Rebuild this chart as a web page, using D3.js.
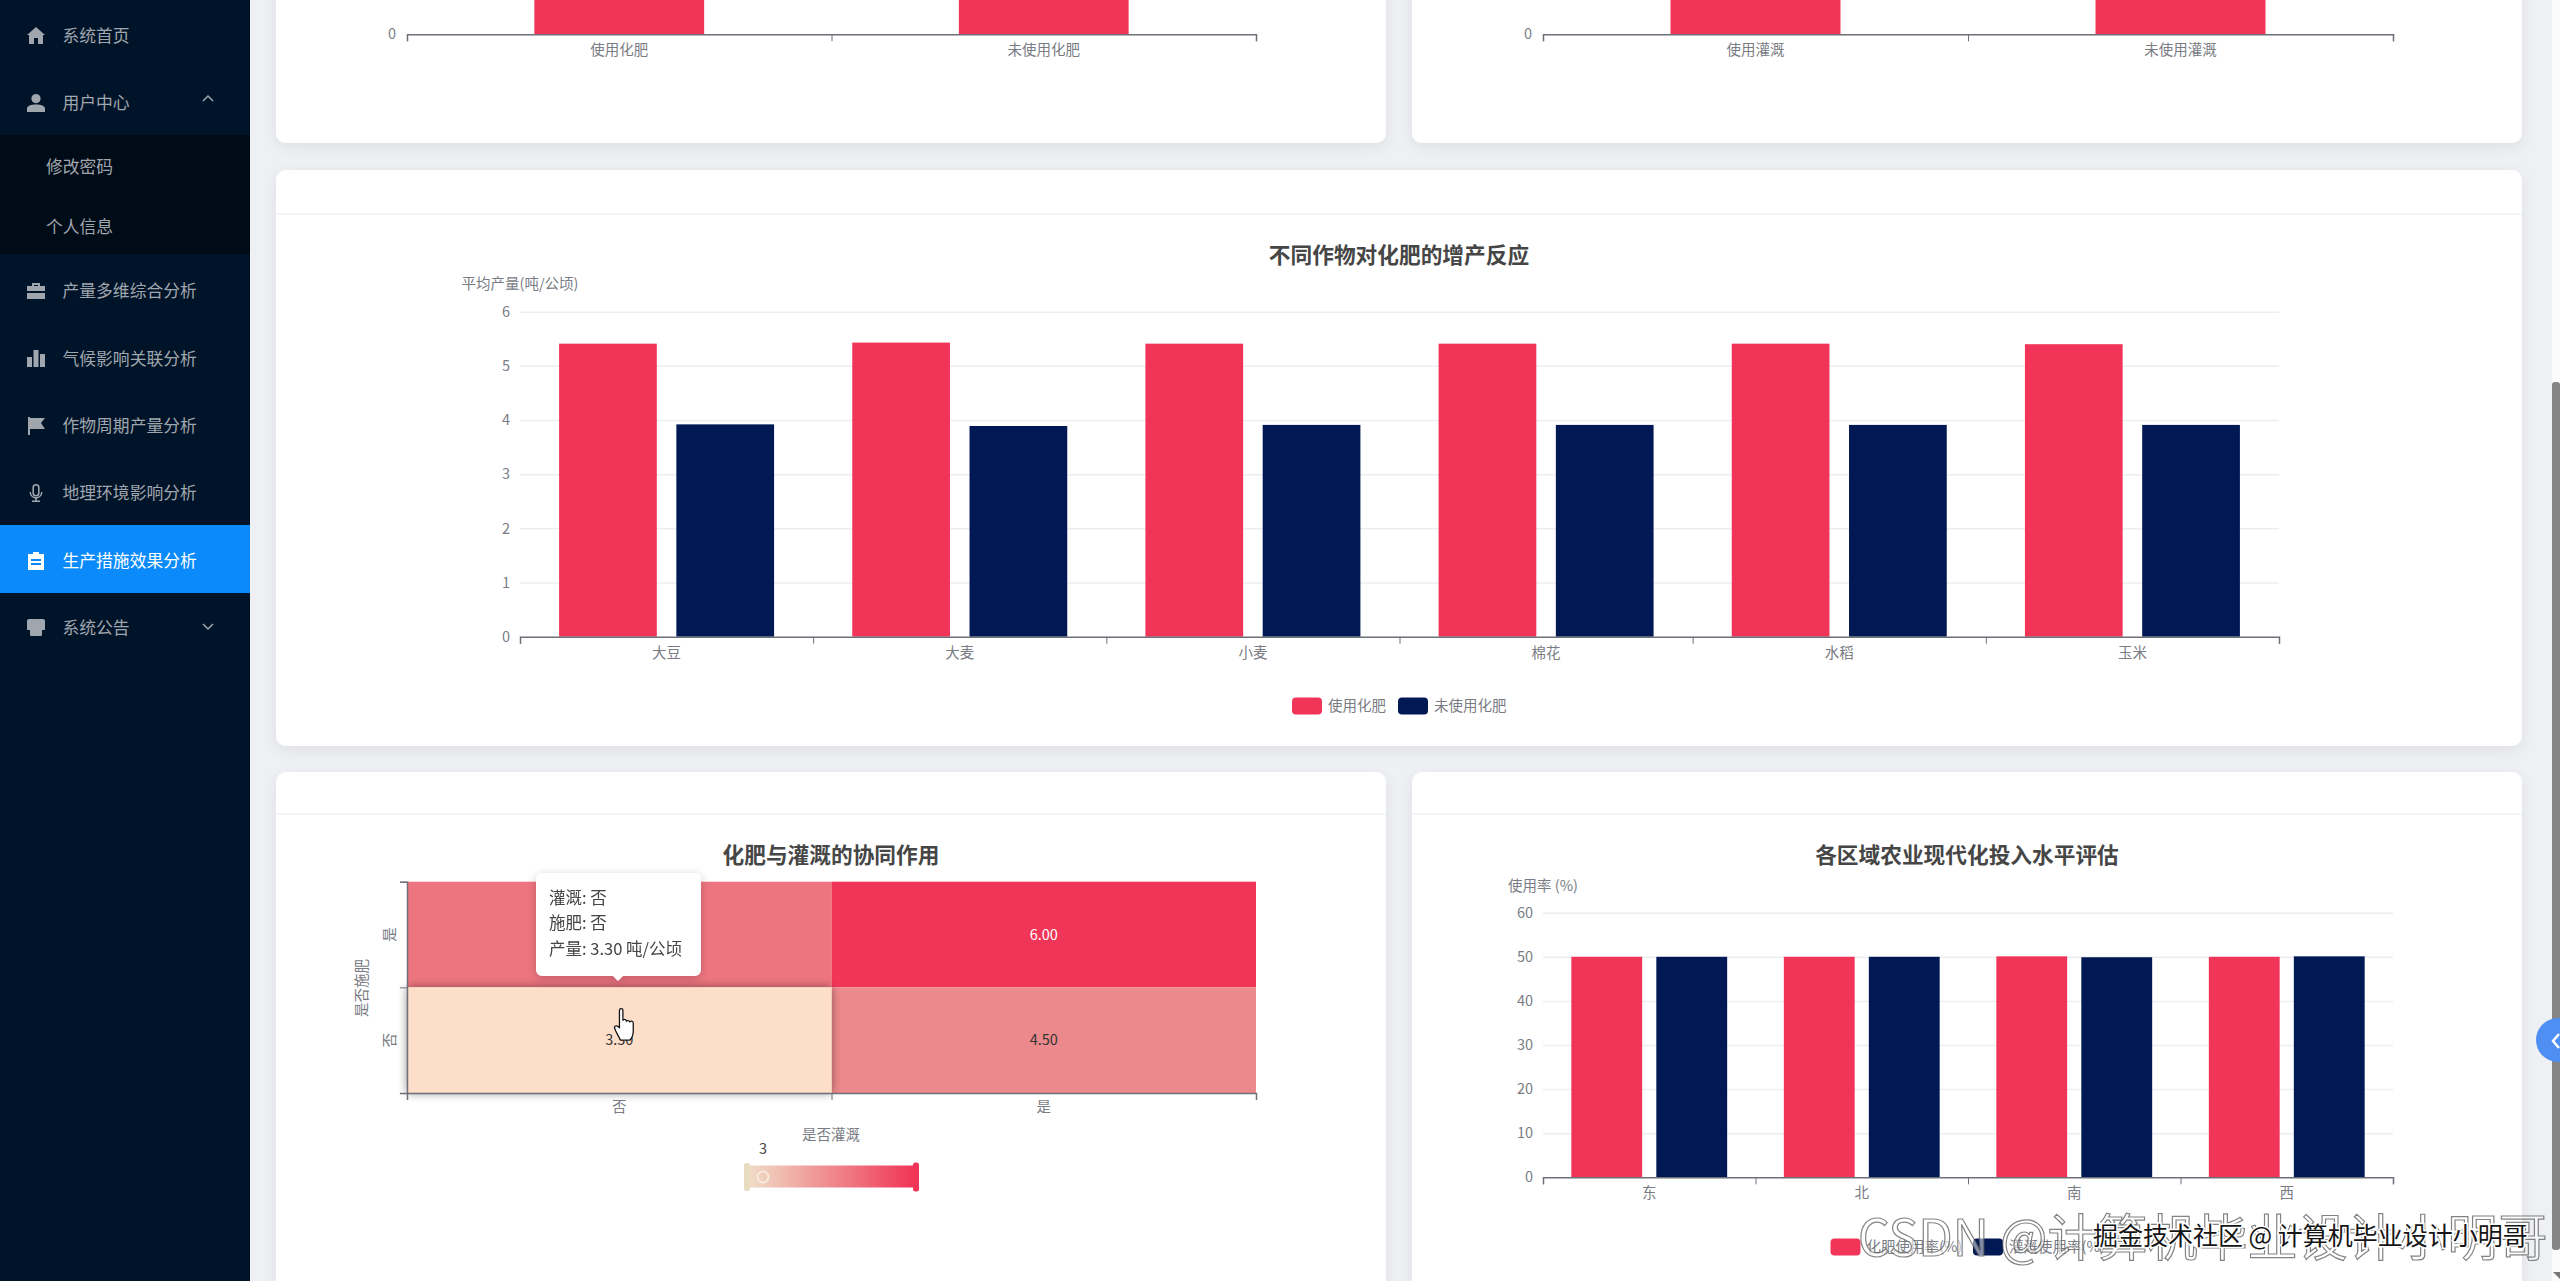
<!DOCTYPE html>
<html>
<head>
<meta charset="utf-8">
<script src="https://cdn.jsdelivr.net/npm/d3@7"></script>
<style>
  html, body { margin: 0; padding: 0; background: #eef0f4; overflow: hidden; }
  svg { display: block; }
  text { font-family: "Noto Sans CJK SC", "Noto Sans", sans-serif; }
</style>
</head>
<body>
<svg id="page" width="2560" height="1281"></svg>
<script>
// chart values
const menuItems = ['系统首页', '用户中心', '修改密码', '个人信息', '产量多维综合分析', '气候影响关联分析', '作物周期产量分析', '地理环境影响分析', '生产措施效果分析', '系统公告'];

const fertCategories = ['使用化肥', '未使用化肥'];
const fertValues = [5.41, 3.91];
const irrigCategories = ['使用灌溉', '未使用灌溉'];
const irrigValues = [5.40, 3.90];

const cropCategories = ['大豆', '大麦', '小麦', '棉花', '水稻', '玉米'];
const cropSeriesNames = ['使用化肥', '未使用化肥'];
const cropWithFert = [5.41, 5.43, 5.41, 5.41, 5.41, 5.40];
const cropNoFert = [3.92, 3.89, 3.91, 3.91, 3.91, 3.91];
const cropTicks = [0, 1, 2, 3, 4, 5, 6];

const regionCategories = ['东', '北', '南', '西'];
const regionSeriesNames = ['化肥使用率(%)', '灌溉使用率(%)'];
const regionFert = [50.0, 50.0, 50.1, 50.0];
const regionIrrig = [50.0, 50.0, 49.9, 50.1];
const regionTicks = [0, 10, 20, 30, 40, 50, 60];

const heatX = ['否', '是'];
const heatY = ['否', '是'];
const heatCells = [
  {irrig: '否', fert: '是', value: 4.85},
  {irrig: '是', fert: '是', value: 6.0},
  {irrig: '是', fert: '否', value: 4.5},
  {irrig: '否', fert: '否', value: 3.3}
];
const tooltipLines = ['灌溉: 否', '施肥: 否', '产量: 3.30 吨/公顷'];

const RED = '#f03558';
const NAVY = '#001853';
const AXIS = '#6e7079';
const LABEL = '#7a7c84';
const GRID = '#eceef2';
const HOVER_CELL = '#fddfc9';
const FS = '14.5px';

const svg = d3.select('#page');
const defs = svg.append('defs');

const shadow = defs.append('filter').attr('id', 'cardShadow')
  .attr('x', '-5%').attr('y', '-5%').attr('width', '110%').attr('height', '115%');
shadow.append('feDropShadow').attr('dx', 0).attr('dy', 4).attr('stdDeviation', 7)
  .attr('flood-color', '#000').attr('flood-opacity', 0.07);

const cellShadow = defs.append('filter').attr('id', 'cellShadow')
  .attr('x', '-10%').attr('y', '-15%').attr('width', '120%').attr('height', '130%');
cellShadow.append('feDropShadow').attr('dx', 0).attr('dy', 0).attr('stdDeviation', 5)
  .attr('flood-color', '#000').attr('flood-opacity', 0.45);

const tipShadow = defs.append('filter').attr('id', 'tipShadow')
  .attr('x', '-15%').attr('y', '-15%').attr('width', '130%').attr('height', '130%');
tipShadow.append('feDropShadow').attr('dx', 0).attr('dy', 2).attr('stdDeviation', 5)
  .attr('flood-color', '#000').attr('flood-opacity', 0.2);

const grad = defs.append('linearGradient').attr('id', 'vmGrad');
grad.append('stop').attr('offset', '0%').attr('stop-color', '#f0dcc6');
grad.append('stop').attr('offset', '100%').attr('stop-color', RED);

const heatColor = d3.scaleLinear().domain([3, 6]).range(['#e8dcc0', RED]);

// ---- page furniture ----
function card(x, y, w, h, headerY) {
  svg.append('rect').attr('x', x).attr('y', y).attr('width', w).attr('height', h)
    .attr('rx', 10).attr('fill', '#fff').attr('filter', 'url(#cardShadow)');
  if (headerY) {
    svg.append('line').attr('x1', x).attr('x2', x + w).attr('y1', headerY).attr('y2', headerY)
      .attr('stroke', '#f1f2f4').attr('stroke-width', 1.5);
  }
}

card(276, -100, 1110, 243);
card(1412, -100, 1110, 243);
card(276, 170, 2246, 576, 214);
card(276, 772, 1110, 700, 814);
card(1412, 772, 1110, 700, 814);

// ---- sidebar ----
const menuY = [36, 103, 167, 227, 291, 359, 426, 493, 561, 628];
const sidebar = svg.append('g');
sidebar.append('rect').attr('width', 250).attr('height', 1281).attr('fill', '#001429');
sidebar.append('rect').attr('y', 135).attr('width', 250).attr('height', 119).attr('fill', '#000b18');
sidebar.append('rect').attr('y', 525).attr('width', 250).attr('height', 68).attr('fill', '#0b8bfb');

sidebar.selectAll('text.menu')
  .data(menuItems)
  .join('text')
  .attr('class', 'menu')
  .attr('x', (d, i) => (i === 2 || i === 3) ? 46 : 62.5)
  .attr('y', (d, i) => menuY[i])
  .attr('dy', '0.36em')
  .attr('font-size', '16.8px')
  .attr('fill', (d, i) => i === 8 ? '#fff' : '#a0a6ad')
  .text(d => d);

// little hand drawn menu icons, origin at top left of an 18px box
const iconPaths = {
  0: 'M9 0L18 8H16V17H11V11H7V17H2V8H0Z',
  1: 'M9 0a4.6 4.6 0 1 1 -.01 0ZM0 18V14.5C0 12 4 10.5 9 10.5S18 12 18 14.5V18Z',
  4: 'M5 4V1H13V4H18V9H0V4ZM7 4H11V3H7ZM0 11H18V17H0Z',
  5: 'M0 7H5V17H0ZM6.5 0H11.5V17H6.5ZM13 4H18V17H13Z',
  6: 'M1 0H3V18H1ZM3 1H18L14 6L18 12H3Z',
  7: 'M9 0a3.6 3.6 0 0 1 3.6 3.6V9A3.6 3.6 0 0 1 5.4 9V3.6A3.6 3.6 0 0 1 9 0ZM7 3.6V9A2 2 0 0 0 11 9V3.6A2 2 0 0 0 7 3.6ZM2.6 8H4C4 11 6 13 9 13S14 11 14 8H15.4C15.4 11.5 13 14 9.8 14.4V16.6H13V18H5V16.6H8.2V14.4C5 14 2.6 11.5 2.6 8Z',
  8: 'M1 2H6V0H12V2H17V18H1ZM4 7V9H14V7ZM4 11V13H14V11Z',
  9: 'M2 0H16A2 2 0 0 1 18 2V11H15V16A1 1 0 0 1 14 17H4A1 1 0 0 1 3 16V11H0V2A2 2 0 0 1 2 0Z'
};
Object.keys(iconPaths).forEach(i => {
  sidebar.append('path')
    .attr('d', iconPaths[i])
    .attr('transform', `translate(27, ${menuY[i] - 9})`)
    .attr('fill', +i === 8 ? '#fff' : '#a0a6ad')
    .attr('fill-rule', 'evenodd');
});
sidebar.append('path').attr('d', 'M203 101L208 96L213 101').attr('fill', 'none')
  .attr('stroke', '#a0a6ad').attr('stroke-width', 1.5);
sidebar.append('path').attr('d', 'M203 624L208 629L213 624').attr('fill', 'none')
  .attr('stroke', '#a0a6ad').attr('stroke-width', 1.5);

// ---- charts ----
function styleAxis(g) {
  g.selectAll('.domain').attr('stroke', AXIS).attr('stroke-width', 1.5);
  g.selectAll('line').attr('stroke', AXIS);
  g.selectAll('text').attr('fill', LABEL).attr('font-size', FS)
    .attr('font-family', '"Noto Sans CJK SC", sans-serif');
}

// category axis with ticks on the band edges, labels in the band centres
function categoryAxis(root, categories, x, bottom, labelY) {
  const edges = d3.scaleLinear().domain([0, categories.length]).range(x.range());
  root.append('g')
    .attr('transform', `translate(0, ${bottom})`)
    .call(d3.axisBottom(edges).tickValues(d3.range(categories.length + 1)).tickSize(7).tickFormat(''))
    .call(styleAxis);
  root.append('g')
    .attr('transform', `translate(0, ${labelY})`)
    .call(d3.axisBottom(x).tickSize(0).tickPadding(0))
    .call(g => g.select('.domain').remove())
    .call(styleAxis)
    .selectAll('text').attr('dy', '0.36em');
}

function valueAxis(root, y, left, right, tickValues) {
  root.append('g')
    .attr('transform', `translate(${left}, 0)`)
    .call(d3.axisLeft(y).tickValues(tickValues).tickFormat(d3.format('d')).tickSize(left - right).tickPadding(10))
    .call(g => g.select('.domain').remove())
    .call(styleAxis)
    .call(g => g.selectAll('line').attr('stroke', GRID).attr('stroke-width', 1.5))
    .call(g => g.selectAll('.tick').filter(d => d === 0).select('line').remove());
}

function title(root, text, x, y) {
  root.append('text').attr('x', x).attr('y', y).attr('dy', '0.36em')
    .attr('text-anchor', 'middle').attr('font-size', '21.7px').attr('font-weight', 700)
    .attr('fill', '#464646').text(text);
}

function axisName(root, text, x, y) {
  root.append('text').attr('x', x).attr('y', y).attr('dy', '0.36em')
    .attr('text-anchor', 'middle').attr('font-size', FS).attr('fill', LABEL).text(text);
}

function legend(root, names, xs, y) {
  const items = root.selectAll('g.legend').data(names).join('g')
    .attr('class', 'legend')
    .attr('transform', (d, i) => `translate(${xs[i]}, ${y})`);
  items.append('rect').attr('y', -8.5).attr('width', 30).attr('height', 17).attr('rx', 4)
    .attr('fill', (d, i) => i === 0 ? RED : NAVY);
  items.append('text').attr('x', 36).attr('dy', '0.36em').attr('font-size', FS)
    .attr('fill', LABEL).text(d => d);
}

// the two charts cut off by the top of the page
function singleBars(categories, values, left, right) {
  const root = svg.append('g');
  const x = d3.scaleBand().domain(categories).range([left, right]).paddingInner(0.6).paddingOuter(0.3);
  const y = d3.scaleLinear().domain([0, 6]).range([34.3, -290.7]);
  root.selectAll('rect').data(values).join('rect')
    .attr('x', (d, i) => x(categories[i]))
    .attr('y', d => y(d))
    .attr('width', x.bandwidth())
    .attr('height', d => y(0) - y(d))
    .attr('fill', RED);
  const plain = d3.scaleBand().domain(categories).range([left, right]);
  categoryAxis(root, categories, plain, 34.3, 50);
  root.append('text').attr('x', left - 11).attr('y', y(0) - 1).attr('dy', '0.36em')
    .attr('text-anchor', 'end').attr('font-size', FS).attr('fill', LABEL).text(0);
}

singleBars(fertCategories, fertValues, 407, 1256);
singleBars(irrigCategories, irrigValues, 1543, 2393);

function groupedBars(cfg) {
  const root = svg.append('g');
  const x0 = d3.scaleBand().domain(cfg.categories).range([cfg.left, cfg.right]);
  const x1 = d3.scaleBand().domain([0, 1]).range([0, x0.bandwidth()]).paddingInner(1 / 6).paddingOuter(1 / 3);
  const y = d3.scaleLinear().domain(cfg.domain).range([cfg.bottom, cfg.top]);

  valueAxis(root, y, cfg.left, cfg.right, cfg.ticks);

  cfg.series.forEach((values, s) => {
    root.append('g').selectAll('rect').data(values).join('rect')
      .attr('x', (d, i) => x0(cfg.categories[i]) + x1(s))
      .attr('y', d => y(d))
      .attr('width', x1.bandwidth())
      .attr('height', d => y(0) - y(d))
      .attr('fill', s === 0 ? RED : NAVY);
  });

  categoryAxis(root, cfg.categories, x0, cfg.bottom, cfg.labelY);
  title(root, cfg.title, cfg.titleX, cfg.titleY);
  axisName(root, cfg.yName, cfg.left, cfg.yNameY);
  legend(root, cfg.names, cfg.legendX, cfg.legendY);
}

groupedBars({
  categories: cropCategories, series: [cropWithFert, cropNoFert], names: cropSeriesNames,
  left: 520, right: 2279, bottom: 636.7, top: 311.7, domain: [0, 6], ticks: cropTicks,
  labelY: 652.7, title: '不同作物对化肥的增产反应', titleX: 1399, titleY: 255,
  yName: '平均产量(吨/公顷)', yNameY: 284, legendX: [1292, 1398], legendY: 706
});

groupedBars({
  categories: regionCategories, series: [regionFert, regionIrrig], names: regionSeriesNames,
  left: 1543, right: 2393, bottom: 1177.3, top: 912.7, domain: [0, 60], ticks: regionTicks,
  labelY: 1192.7, title: '各区域农业现代化投入水平评估', titleX: 1967, titleY: 855,
  yName: '使用率 (%)', yNameY: 886, legendX: [1830.5, 1973], legendY: 1247
});

// ---- heatmap ----
const heat = svg.append('g');
const hx = d3.scaleBand().domain(heatX).range([407, 1256]);
const hy = d3.scaleBand().domain(heatY).range([1093, 881.7]);
title(heat, '化肥与灌溉的协同作用', 831, 855);

heat.selectAll('rect.cell').data(heatCells).join('rect')
  .attr('class', 'cell')
  .attr('x', d => hx(d.irrig))
  .attr('y', d => hy(d.fert))
  .attr('width', hx.bandwidth())
  .attr('height', hy.bandwidth())
  .attr('fill', d => d.value === 3.3 ? HOVER_CELL : heatColor(d.value))
  .attr('filter', d => d.value === 3.3 ? 'url(#cellShadow)' : null);

heat.selectAll('text.cellLabel').data(heatCells).join('text')
  .attr('class', 'cellLabel')
  .attr('x', d => hx(d.irrig) + hx.bandwidth() / 2)
  .attr('y', d => hy(d.fert) + hy.bandwidth() / 2)
  .attr('dy', '0.36em')
  .attr('text-anchor', 'middle')
  .attr('font-size', FS)
  .attr('fill', d => d.value === 6 ? '#fff' : '#333')
  .text(d => d.value.toFixed(2));

categoryAxis(heat, heatX, hx, 1093, 1107);

heat.append('g')
  .attr('transform', 'translate(407, 0)')
  .call(d3.axisLeft(d3.scaleLinear().domain([0, 2]).range([1093, 881.7])).tickValues([0, 1, 2]).tickSize(7).tickFormat(''))
  .call(styleAxis);
heat.selectAll('text.yLabel').data(heatY).join('text')
  .attr('class', 'yLabel')
  .attr('transform', d => `translate(389.5, ${hy(d) + hy.bandwidth() / 2}) rotate(-90)`)
  .attr('dy', '0.36em').attr('text-anchor', 'middle')
  .attr('font-size', FS).attr('fill', LABEL).text(d => d);
heat.append('text').attr('transform', 'translate(362, 988) rotate(-90)')
  .attr('dy', '0.36em').attr('text-anchor', 'middle')
  .attr('font-size', FS).attr('fill', LABEL).text('是否施肥');
axisName(heat, '是否灌溉', 831, 1135);

// visual map
const vm = d3.scaleLinear().domain([3, 6]).range([749, 914]);
heat.append('rect').attr('x', vm(3)).attr('y', 1165).attr('width', vm(6) - vm(3)).attr('height', 23)
  .attr('fill', 'url(#vmGrad)').attr('stroke', '#fff').attr('stroke-width', 1);
heat.append('rect').attr('x', vm(3) - 5).attr('y', 1163).attr('width', 6).attr('height', 28).attr('rx', 2.5).attr('fill', '#e8dcc0');
heat.append('rect').attr('x', vm(6) - 1).attr('y', 1162.5).attr('width', 6).attr('height', 29).attr('rx', 2.5).attr('fill', RED);
heat.append('circle').attr('cx', 763).attr('cy', 1177).attr('r', 5.5).attr('fill', 'none')
  .attr('stroke', '#f7eadc').attr('stroke-width', 2);
heat.append('text').attr('x', 763).attr('y', 1149).attr('dy', '0.36em').attr('text-anchor', 'middle')
  .attr('font-size', FS).attr('fill', '#444').text(3);

// tooltip
const tip = heat.append('g').attr('filter', 'url(#tipShadow)');
tip.append('path')
  .attr('d', 'M542 873H695A6 6 0 0 1 701 879V970A6 6 0 0 1 695 976H623L618 981L613 976H542A6 6 0 0 1 536 970V879A6 6 0 0 1 542 873Z')
  .attr('fill', '#fff');
tip.selectAll('text').data(tooltipLines).join('text')
  .attr('x', 549)
  .attr('y', (d, i) => 898 + i * 25.5)
  .attr('dy', '0.36em')
  .attr('font-size', '16.5px')
  .attr('fill', '#444')
  .text(d => d);

// mouse pointer over the highlighted cell
svg.append('path')
  .attr('transform', 'translate(616, 1008) scale(1.15)')
  .attr('d', 'M3 2C3 0 6 0 6 2V11C6 9.5 9 9.5 9 11.5V12C9 10.5 12 10.5 12 12.5C12 11 15 11 15 13V20C15 24 13 27 12 28H4C3 26 0 21 -1 18C-2 16 0 14 3 17Z')
  .attr('fill', '#fff').attr('stroke', '#111').attr('stroke-width', 1.1);

// ---- right edge ----
svg.append('rect').attr('x', 2552).attr('width', 8).attr('height', 1281).attr('fill', '#fbfbfb');
svg.append('rect').attr('x', 2552).attr('y', 382).attr('width', 8).attr('height', 868).attr('rx', 3).attr('fill', '#858585');
svg.append('path').attr('d', 'M2553 1272H2560V1279Z').attr('fill', '#777');
svg.append('circle').attr('cx', 2558).attr('cy', 1040).attr('r', 22).attr('fill', '#4f8ff3');
svg.append('path').attr('d', 'M2559 1034L2553 1041L2559 1048').attr('fill', 'none')
  .attr('stroke', '#fff').attr('stroke-width', 2.5);

// ---- watermarks ----
svg.append('text').attr('x', 1858).attr('y', 1238).attr('dy', '0.36em')
  .attr('font-size', '50px').attr('fill', 'rgba(255,255,255,0.5)')
  .attr('stroke', 'rgba(90,90,90,0.75)').attr('stroke-width', 1.2)
  .text('CSDN @计算机毕业设计小明哥');
svg.append('text').attr('x', 2093).attr('y', 1236).attr('dy', '0.36em')
  .attr('font-size', '25px').attr('fill', '#151515')
  .attr('stroke', '#fff').attr('stroke-width', 3).attr('paint-order', 'stroke')
  .text('掘金技术社区 @ 计算机毕业设计小明哥');
</script>
</body>
</html>
